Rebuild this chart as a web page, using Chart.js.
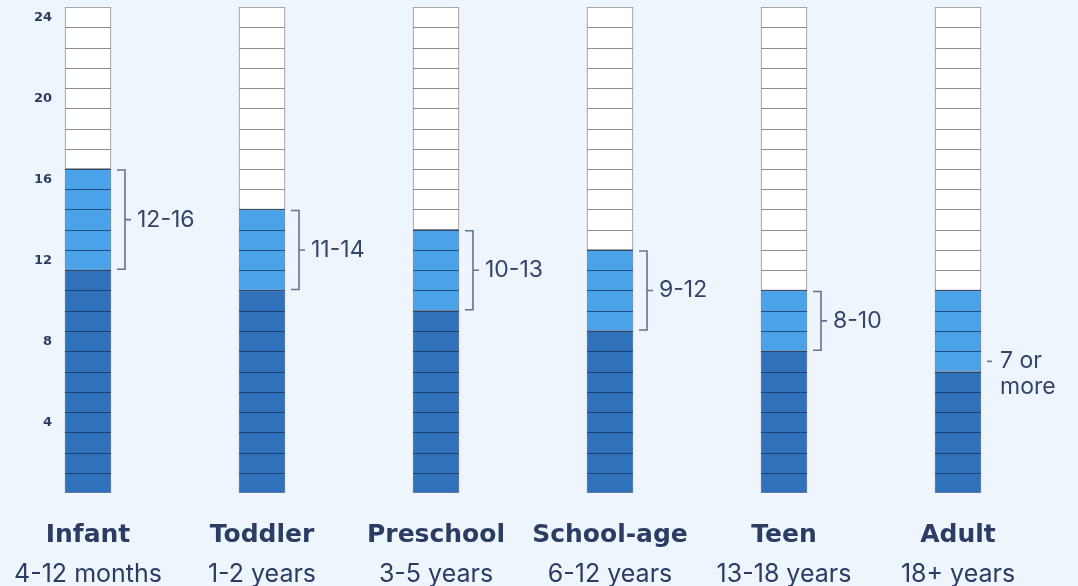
<!DOCTYPE html>
<html>
<head>
<meta charset="utf-8">
<script src="https://cdn.jsdelivr.net/npm/chart.js@4/dist/chart.umd.min.js"></script>
<style>
  html, body { margin: 0; padding: 0; background: #eef5fc; }
  #wrap { width: 1078px; height: 586px; }
</style>
</head>
<body>
<div id="wrap"><canvas id="sleepChart" width="1078" height="586"></canvas></div>
<script>
// hours of sleep per day (one cell = one hour)
const groups = ['Infant', 'Toddler', 'Preschool', 'School-age', 'Teen', 'Adult'];
const ages = ['4-12 months', '1-2 years', '3-5 years', '6-12 years', '13-18 years', '18+ years'];
const baseHours = [11, 10, 9, 8, 7, 6];      // dark part
const rangeHours = [5, 4, 4, 4, 3, 4];       // light part (recommended range)
const restHours = [8, 10, 11, 12, 14, 14];   // white part up to 24
const rangeLabels = [['12-16'], ['11-14'], ['10-13'], ['9-12'], ['8-10'], ['7 or', 'more']];
const hasBracket = [true, true, true, true, true, false];
const yTicks = [4, 8, 12, 16, 20, 24];

const navy = '#2c3d63';
const font = 'Inter, "Noto Sans", sans-serif';
const boldFont = '"DejaVu Sans", Inter, sans-serif';

// horizontal hour lines inside every bar
const cellLines = {
  id: 'cellLines',
  afterDatasetsDraw(chart) {
    const ctx = chart.ctx;
    const y = chart.scales.y;
    const meta = chart.getDatasetMeta(0);
    ctx.save();
    ctx.lineWidth = 1;
    meta.data.forEach((bar, i) => {
      const left = bar.x - bar.width / 2;
      const right = bar.x + bar.width / 2;
      const blueTop = baseHours[i] + rangeHours[i];
      for (let k = 1; k < 24; k++) {
        const py = Math.round(y.getPixelForValue(k)) + 0.5;
        ctx.strokeStyle = k <= blueTop ? 'rgba(25,50,90,0.75)' : '#8e8e8e';
        ctx.beginPath();
        ctx.moveTo(left, py);
        ctx.lineTo(right, py);
        ctx.stroke();
      }
    });
    ctx.restore();
  }
};

// brackets and range text right of each bar
const brackets = {
  id: 'brackets',
  afterDatasetsDraw(chart) {
    const ctx = chart.ctx;
    const y = chart.scales.y;
    const meta = chart.getDatasetMeta(1);
    ctx.save();
    ctx.lineWidth = 1.6;
    ctx.strokeStyle = '#66738e';
    ctx.fillStyle = '#36446a';
    ctx.font = '23px ' + font;
    ctx.textBaseline = 'middle';
    meta.data.forEach((bar, i) => {
      const right = bar.x + bar.width / 2;
      if (hasBracket[i]) {
        const top = bar.y, bot = bar.base, mid = (top + bot) / 2;
        ctx.beginPath();
        ctx.moveTo(right + 6, top + 1);
        ctx.lineTo(right + 14, top + 1);
        ctx.lineTo(right + 14, bot - 1);
        ctx.lineTo(right + 6, bot - 1);
        ctx.moveTo(right + 14, mid);
        ctx.lineTo(right + 20, mid);
        ctx.stroke();
        ctx.fillText(rangeLabels[i][0], right + 26, mid);
      } else {
        const py = y.getPixelForValue(baseHours[i] + 0.5);
        ctx.beginPath();
        ctx.moveTo(right + 6, py);
        ctx.lineTo(right + 11, py);
        ctx.stroke();
        rangeLabels[i].forEach((t, j) => ctx.fillText(t, right + 19, py + j * 26));
      }
    });
    ctx.restore();
  }
};

new Chart(document.getElementById('sleepChart'), {
  type: 'bar',
  data: {
    labels: groups,
    datasets: [
      { data: baseHours, backgroundColor: '#2f72bb', borderColor: 'rgba(25,50,90,0.6)', borderWidth: 1, borderSkipped: false },
      { data: rangeHours, backgroundColor: '#4aa3e9', borderColor: 'rgba(25,50,90,0.5)', borderWidth: 1, borderSkipped: false },
      { data: restHours, backgroundColor: '#ffffff', borderColor: '#8e8e8e', borderWidth: 1, borderSkipped: false }
    ]
  },
  options: {
    responsive: false,
    animation: false,
    barThickness: 46,
    layout: { padding: { left: 1, right: 33, top: 7, bottom: 0 } },
    plugins: { legend: { display: false }, tooltip: { enabled: false } },
    scales: {
      x: {
        stacked: true,
        offset: true,
        weight: 1,
        grid: { display: false },
        border: { display: false },
        ticks: { color: navy, padding: 19, font: { family: boldFont, size: 25, weight: 'bold' } },
        afterFit: s => { s.height = 58; }
      },
      x2: {
        type: 'category',
        position: 'bottom',
        labels: ages,
        offset: true,
        weight: 2,
        grid: { display: false },
        border: { display: false },
        ticks: { color: navy, padding: 0, font: { family: font, size: 25 } },
        afterFit: s => { s.height = 35; }
      },
      y: {
        stacked: true,
        display: false,
        min: 0,
        max: 24
      },
      // tick labels sit in the middle of the hour cell they name
      yLab: {
        position: 'left',
        min: 0.5,
        max: 24.5,
        grid: { display: false },
        border: { display: false },
        afterBuildTicks: s => { s.ticks = yTicks.map(v => ({ value: v })); },
        afterFit: s => { s.width = 0; s.paddingTop = 0; s.paddingBottom = 0; },
        ticks: {
          mirror: true,
          padding: 33,
          color: navy,
          font: { family: boldFont, size: 13, weight: 'bold' },
          callback: v => (v < 10 ? '\u2007' : '') + v
        }
      }
    }
  },
  plugins: [cellLines, brackets]
});
</script>
</body>
</html>
